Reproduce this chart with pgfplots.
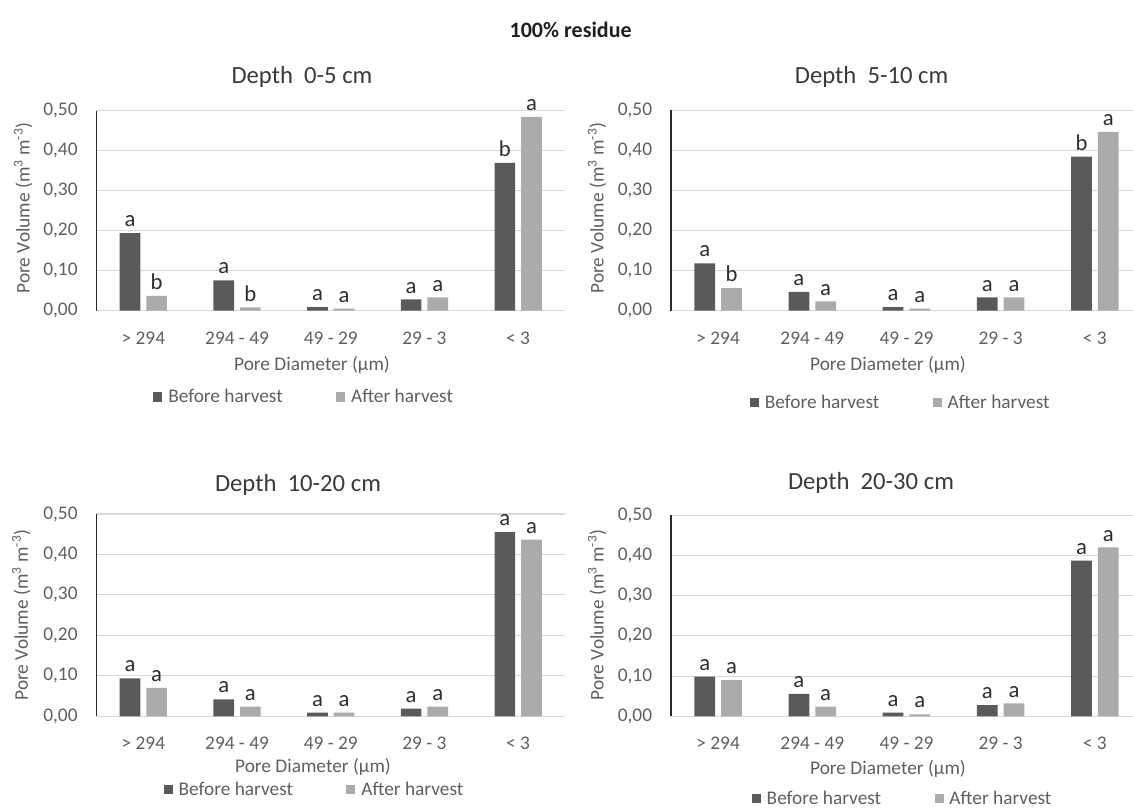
\documentclass[border=0pt]{standalone}
\usepackage{fontspec}
\setmainfont{Carlito}
\usepackage{pgfplots}
\pgfplotsset{compat=1.18}
\definecolor{darkbar}{HTML}{5A5A5A}
\definecolor{lightbar}{HTML}{ABABAB}
\definecolor{gridc}{HTML}{D9D9D9}
\definecolor{tickc}{HTML}{5F5F5F}
\definecolor{titlec}{HTML}{3A3A3A}
\definecolor{letterc}{HTML}{2E2E2E}
\definecolor{axc}{HTML}{2A2A2A}
\newcommand{\fticks}{\fontsize{14.5}{17}\selectfont}
\newcommand{\flab}{\fontsize{14.5}{17}\selectfont}
\newcommand{\ftitle}{\fontsize{18.5}{22}\selectfont}
\newcommand{\fletter}{\fontsize{17}{20}\selectfont}
\pgfplotsset{
  panel/.style={
    scale only axis, ybar, bar width=0.22, clip=false,
    ymin=0, ymax=0.5, ytick={0,0.1,0.2,0.3,0.4,0.5},
    xtick={0,1,2,3,4},
    xticklabels={{> 294},{294 - 49},{49 - 29},{29 - 3},{< 3}},
    xmin=-0.5,
    axis x line*=bottom, axis y line*=left,
    x axis line style={draw=gridc, line width=0.8pt},
    y axis line style={draw=axc, line width=1.3pt},
    ymajorgrids, grid style={draw=gridc, line width=0.8pt},
    major tick length=0pt, tick style={draw=none},
    /pgf/number format/assume math mode=true,
    yticklabel style={font=\fticks, text=tickc, anchor=east, inner sep=0pt, xshift=-14pt,
      /pgf/number format/.cd, fixed, fixed zerofill, precision=2, use comma},
    xticklabel style={font=\fticks, text=tickc, anchor=base, inner sep=0pt, yshift=-25pt},
    nodes near coords, point meta=explicit symbolic,
    every node near coord/.append style={font=\fletter, text=letterc, inner sep=0pt, anchor=south, yshift=4.5pt},
    legend columns=2,
    legend style={draw=none, fill=none, font=\flab, text=tickc, anchor=center,
      /tikz/every even column/.append style={column sep=38pt}},
    legend image code/.code={\fill[##1] (0pt,-3.4pt) rectangle (6.8pt,3.4pt);},
  },
  before/.style={fill=darkbar, draw=none, bar shift=-0.142},
  after/.style={fill=lightbar, draw=none, bar shift=0.142},
}
\begin{document}
\begin{tikzpicture}
\useasboundingbox (0pt,0pt) rectangle (849.75pt,-607.5pt);

\node[font=\fontsize{16.5}{20}\selectfont\bfseries, text=black!88] at (428pt,-22.5pt) {100\% residue};

% Panel 1: Depth 0-5 cm
\begin{axis}[panel, at={(72.375pt,-233.025pt)}, anchor=south west,
  width=351.375pt, height=150.15pt, xmax=4.5,
  legend style={at={(0.444,-0.431)}}]
\addplot[before] coordinates {(0,0.194)[a] (1,0.076)[a] (2,0.009)[a] (3,0.028)[a] (4,0.369)[b]};
\addplot[after] coordinates {(0,0.037)[b] (1,0.008)[b] (2,0.005)[a] (3,0.033)[a] (4,0.484)[a]};
\legend{\,Before harvest, \,After harvest}
\end{axis}
\node[font=\ftitle, text=titlec] at (226.5pt,-57.5pt) {Depth\ \ 0-5 cm};
\node[font=\flab, text=tickc] at (234pt,-273.75pt) {Pore Diameter (µm)};
\node[font=\flab, text=tickc, rotate=90] at (17.25pt,-156pt) {Pore Volume (m\textsuperscript{3} m\textsuperscript{-3})};

% Panel 2: Depth 5-10 cm
\begin{axis}[panel, at={(503.25pt,-233.025pt)}, anchor=south west,
  width=346.5pt, height=150.375pt, xmax=4.405,
  legend style={at={(0.498,-0.46)}}]
\addplot[before] coordinates {(0,0.118)[a] (1,0.047)[a] (2,0.009)[a] (3,0.033)[a] (4,0.384)[b]};
\addplot[after] coordinates {(0,0.056)[b] (1,0.023)[a] (2,0.005)[a] (3,0.033)[a] (4,0.446)[a]};
\legend{\,Before harvest, \,After harvest}
\end{axis}
\node[font=\ftitle, text=titlec] at (653.7pt,-57.5pt) {Depth\ \ 5-10 cm};
\node[font=\flab, text=tickc] at (666pt,-273.75pt) {Pore Diameter (µm)};
\node[font=\flab, text=tickc, rotate=90] at (447.75pt,-156pt) {Pore Volume (m\textsuperscript{3} m\textsuperscript{-3})};

% Panel 3: Depth 10-20 cm
\begin{axis}[panel, at={(72.375pt,-537.225pt)}, anchor=south west,
  width=351.375pt, height=151.725pt, xmax=4.5,
  legend style={at={(0.466,-0.362)}}]
\addplot[before] coordinates {(0,0.094)[a] (1,0.042)[a] (2,0.009)[a] (3,0.019)[a] (4,0.455)[a]};
\addplot[after] coordinates {(0,0.070)[a] (1,0.024)[a] (2,0.009)[a] (3,0.024)[a] (4,0.437)[a]};
\legend{\,Before harvest, \,After harvest}
\end{axis}
\node[font=\ftitle, text=titlec] at (223.5pt,-364pt) {Depth\ \ 10-20 cm};
\node[font=\flab, text=tickc] at (234.75pt,-575.5pt) {Pore Diameter (µm)};
\node[font=\flab, text=tickc, rotate=90] at (16pt,-461.25pt) {Pore Volume (m\textsuperscript{3} m\textsuperscript{-3})};

% Panel 4: Depth 20-30 cm
\begin{axis}[panel, at={(503.25pt,-537.225pt)}, anchor=south west,
  width=346.5pt, height=150.75pt, xmax=4.405,
  legend style={at={(0.502,-0.41)}}]
\addplot[before] coordinates {(0,0.099)[a] (1,0.056)[a] (2,0.009)[a] (3,0.028)[a] (4,0.387)[a]};
\addplot[after] coordinates {(0,0.090)[a] (1,0.024)[a] (2,0.005)[a] (3,0.032)[a] (4,0.420)[a]};
\legend{\,Before harvest, \,After harvest}
\end{axis}
\node[font=\ftitle, text=titlec] at (653.25pt,-362.5pt) {Depth\ \ 20-30 cm};
\node[font=\flab, text=tickc] at (666pt,-577pt) {Pore Diameter (µm)};
\node[font=\flab, text=tickc, rotate=90] at (447.75pt,-461.25pt) {Pore Volume (m\textsuperscript{3} m\textsuperscript{-3})};
\end{tikzpicture}
\end{document}
